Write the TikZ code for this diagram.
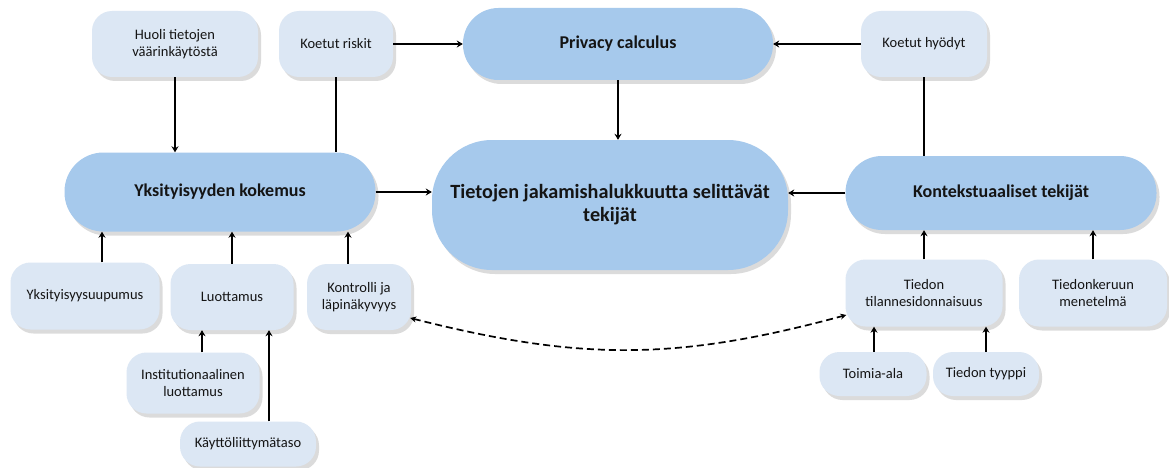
\documentclass[tikz,border=0pt]{standalone}
\usepackage{fontspec}
\setmainfont{Carlito}
\usetikzlibrary{arrows.meta,shadows}
\definecolor{lightc}{RGB}{220,231,244}
\definecolor{darkc}{RGB}{166,201,236}
\definecolor{txt}{RGB}{20,20,20}
\tikzset{
  shad/.style={drop shadow={opacity=0.28,shadow xshift=3pt,shadow yshift=-4pt}},
  smallbox/.style={shad,fill=lightc,draw=none,rounded corners=20pt,align=center,inner sep=0pt,text=txt,
    font=\fontsize{14.5}{17.5}\selectfont},
  bigbase/.style={shad,fill=darkc,draw=none,inner sep=0pt,text=txt,
    font=\bfseries\fontsize{18}{22.5}\selectfont},
  bigbox/.style={bigbase,align=center},
  arr/.style={line width=2.2pt,-{Stealth[length=6pt,width=7pt]}},
  ln/.style={line width=2.2pt},
  dash2/.style={line width=1.7pt,dash pattern=on 7pt off 4pt,{Stealth[length=6pt,width=6pt]}-{Stealth[length=6pt,width=6pt]}}
}
\begin{document}
\begin{tikzpicture}[x=1pt,y=-1pt]
\useasboundingbox[fill=white] (0,0) rectangle (1169,468);
% top row
\node[smallbox,minimum width=166pt,minimum height=66pt] (hu) at (175,44) {Huoli tietojen\\väärinkäytöstä};
\node[smallbox,minimum width=114pt,minimum height=66pt] (kr) at (336,44) {Koetut riskit};
\node[bigbox,rounded corners=35.5pt,minimum width=310pt,minimum height=72pt] (pc) at (618,44) {Privacy calculus};
\node[smallbox,minimum width=126pt,minimum height=66pt] (kh) at (924,44) {Koetut hyödyt};
% middle row
\node[bigbox,rounded corners=39pt,minimum width=311pt,minimum height=79pt] (yk) at (220,192) {Yksityisyyden kokemus};
\node[bigbase,rounded corners=60pt,minimum width=356pt,minimum height=130pt,font=\bfseries\fontsize{20.2}{23}\selectfont] (tj) at (610,205)
  {\parbox{340pt}{\centering Tietojen jakamishalukkuutta selittävät\par tekijät\par}};
\node[bigbox,rounded corners=36.5pt,minimum width=311pt,minimum height=74pt] (kt) at (1001,193) {Kontekstuaaliset tekijät};
% lower left
\node[smallbox,minimum width=149pt,minimum height=67pt] (yu) at (85,296) {Yksityisyysuupumus};
\node[smallbox,minimum width=123pt,minimum height=66pt] (lu) at (232,297) {Luottamus};
\node[smallbox,minimum width=104pt,minimum height=66pt] (ko) at (359,297) {Kontrolli ja\\läpinäkyvyys};
\node[smallbox,minimum width=133pt,minimum height=61pt] (in) at (193,383) {Institutionaalinen\\luottamus};
\node[smallbox,minimum width=136pt,minimum height=45pt] (ka) at (248,444) {Käyttöliittymätaso};
% lower right
\node[smallbox,minimum width=157pt,minimum height=67pt] (ti) at (924,293) {Tiedon\\tilannesidonnaisuus};
\node[smallbox,minimum width=148pt,minimum height=67pt] (tk) at (1093,293) {Tiedonkeruun\\menetelmä};
\node[smallbox,minimum width=107pt,minimum height=44pt] (to) at (873,374) {Toimia-ala};
\node[smallbox,minimum width=106pt,minimum height=44pt] (ty) at (986,374) {Tiedon tyyppi};
% connectors
\draw[arr] (hu.south) -- (hu.south |- yk.north);
\draw[ln] (kr.south) -- (kr.south |- yk.north);
\draw[arr] (kr.east) -- (pc.west);
\draw[arr] (kh.west) -- (pc.east);
\draw[ln] (kh.south) -- (kh.south |- kt.north);
\draw[arr] (pc.south) -- (pc.south |- tj.north);
\draw[arr] (yk.east) -- (yk.east -| tj.west);
\draw[arr] (kt.west) -- (kt.west -| tj.east);
\draw[arr] ([xshift=17pt]yu.north) -- ([xshift=17pt]yu.north |- yk.south);
\draw[arr] (lu.north) -- (lu.north |- yk.south);
\draw[arr] ([xshift=-11pt]ko.north) -- ([xshift=-11pt]ko.north |- yk.south);
\draw[arr] ([xshift=9pt]in.north) -- ([xshift=9pt]in.north |- lu.south);
\draw[arr] ([xshift=21pt]ka.north) -- ([xshift=21pt]ka.north |- lu.south);
\draw[arr] (ti.north) -- (ti.north |- kt.south);
\draw[arr] (tk.north) -- (tk.north |- kt.south);
\draw[arr] ([xshift=1pt]to.north) -- ([xshift=1pt]to.north |- ti.south);
\draw[arr] (ty.north) -- (ty.north |- ti.south);
\draw[dash2] ([xshift=-1pt,yshift=-21pt]ko.east) .. controls +(170,43) and +(-170,46) .. ([xshift=1pt,yshift=-22pt]ti.west);
\end{tikzpicture}
\end{document}
